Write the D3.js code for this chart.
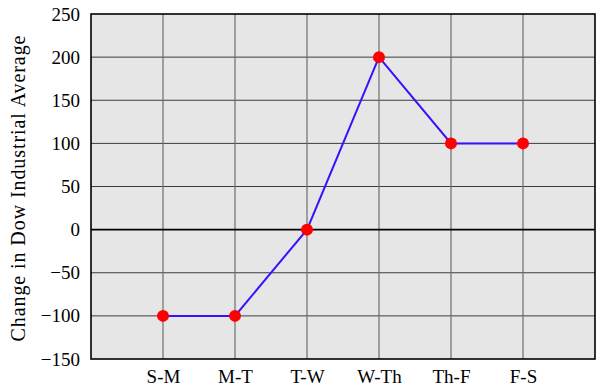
<!DOCTYPE html>
<html>
<head>
<meta charset="utf-8">
<script src="https://cdn.jsdelivr.net/npm/d3@7"></script>
<style>
  body { margin: 0; background: #fff; }
  text { font-family: "Liberation Serif", "DejaVu Serif", serif; }
</style>
</head>
<body>
<svg width="607" height="391"></svg>
<script>
// data
var days = ["S-M", "M-T", "T-W", "W-Th", "Th-F", "F-S"];
var changes = [-100, -100, 0, 200, 100, 100];
var yTicks = [-150, -100, -50, 0, 50, 100, 150, 200, 250];

var svg = d3.select("svg");
var plotLeft = 91, plotRight = 595, plotTop = 14, plotBottom = 359;

var x = d3.scaleLinear().domain([0, 7]).range([plotLeft, plotRight]);
var y = d3.scaleLinear().domain([-150, 250]).range([plotBottom, plotTop]);

svg.append("rect")
    .attr("x", plotLeft).attr("y", plotTop)
    .attr("width", plotRight - plotLeft).attr("height", plotBottom - plotTop)
    .style("fill", "#e6e6e6");

// horizontal grid
svg.selectAll("line.hgrid")
    .data(yTicks.filter(function(d) { return d !== 0 && d !== 250 && d !== -150; }))
    .enter().append("line")
    .attr("class", "hgrid")
    .attr("x1", plotLeft).attr("x2", plotRight)
    .attr("y1", function(d) { return y(d); })
    .attr("y2", function(d) { return y(d); })
    .style("stroke", "#3c3c3c").style("stroke-width", 1);

// vertical grid
svg.selectAll("line.vgrid")
    .data(days)
    .enter().append("line")
    .attr("class", "vgrid")
    .attr("x1", function(d, i) { return x(i + 1); })
    .attr("x2", function(d, i) { return x(i + 1); })
    .attr("y1", plotTop).attr("y2", plotBottom)
    .style("stroke", "#6e6e6e").style("stroke-width", 1.2);

// zero line
svg.append("line")
    .attr("x1", plotLeft).attr("x2", plotRight)
    .attr("y1", y(0)).attr("y2", y(0))
    .style("stroke", "#000").style("stroke-width", 1.6);

svg.append("rect")
    .attr("x", plotLeft).attr("y", plotTop)
    .attr("width", plotRight - plotLeft).attr("height", plotBottom - plotTop)
    .style("fill", "none").style("stroke", "#000").style("stroke-width", 1.6);

// y axis labels
var yAxis = d3.axisLeft(y).tickValues(yTicks).tickSize(0).tickPadding(11)
    .tickFormat(function(d) { return d < 0 ? "\u2212" + Math.abs(d) : d; });
var gy = svg.append("g").attr("transform", "translate(" + plotLeft + ",0)").call(yAxis);
gy.select(".domain").remove();
gy.selectAll("text").style("font-size", "19px").style("fill", "#000")
    .style("font-family", "'Liberation Serif', serif");

// x axis labels
var xAxis = d3.axisBottom(x).tickValues(d3.range(1, 7)).tickSize(0).tickPadding(11)
    .tickFormat(function(d) { return days[d - 1]; });
var gx = svg.append("g").attr("transform", "translate(0," + plotBottom + ")").call(xAxis);
gx.select(".domain").remove();
gx.selectAll("text").style("font-size", "19px").style("fill", "#000")
    .style("font-family", "'Liberation Serif', serif");

// y title
svg.append("text")
    .attr("transform", "translate(25," + ((plotTop + plotBottom) / 2 + 2) + ") rotate(-90)")
    .attr("text-anchor", "middle")
    .attr("textLength", 306)
    .attr("lengthAdjust", "spacing")
    .style("font-size", "20px")
    .text("Change in Dow Industrial Average");

// line
var line = d3.line()
    .x(function(d, i) { return x(i + 1); })
    .y(function(d) { return y(d); });

svg.append("path")
    .datum(changes)
    .attr("d", line)
    .style("fill", "none")
    .style("stroke", "#3a10ff")
    .style("stroke-width", 2);

svg.selectAll("circle")
    .data(changes)
    .enter().append("circle")
    .attr("cx", function(d, i) { return x(i + 1); })
    .attr("cy", function(d) { return y(d); })
    .attr("r", 6)
    .style("fill", "#ff0000");
</script>
</body>
</html>
